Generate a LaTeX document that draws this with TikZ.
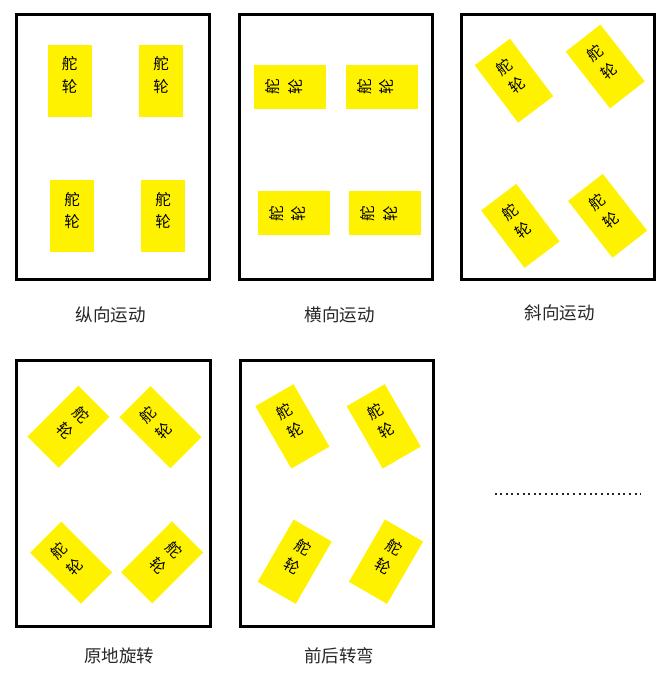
\documentclass[tikz,border=0pt]{standalone}
\usepackage{fontspec}
\newfontfamily\cjk{Noto Sans CJK SC}
\usetikzlibrary{calc}
\tikzset{
  frame/.style={draw=black, line width=3pt, fill=white},
  wheel/.style={fill=yellow, draw=none, minimum width=44pt, minimum height=72pt, inner sep=0pt},
  wheeltext/.style={font=\cjk\fontsize{15.5}{22.5}\selectfont, align=center, inner sep=0pt, text=black},
  caption/.style={font=\cjk\fontsize{17.5}{20}\selectfont, text=black!85, inner sep=0pt},
  dots/.style={line width=2pt, dash pattern=on 2pt off 3.6pt, draw=black!85}
}
\newcommand{\wheelat}[4]{%
  \node[wheel, rotate=#4] (#1) at (#2,#3) {};
  \node[wheeltext, rotate=#4] (#1t) at ($(#1.center)!6pt!(#1.north)$) {舵\\轮};
}
\begin{document}
\begin{tikzpicture}[x=1pt,y=-1pt]
\useasboundingbox (0,0) rectangle (668,684);
% frames
\node[frame, minimum width=192.6pt, minimum height=265pt, inner sep=0pt] (f1) at (113,146.8) {};
\node[frame, minimum width=192.7pt, minimum height=265pt, inner sep=0pt] (f2) at (336.3,146.8) {};
\node[frame, minimum width=193pt, minimum height=265pt, inner sep=0pt] (f3) at (557.5,146.8) {};
\node[frame, minimum width=194pt, minimum height=265.7pt, inner sep=0pt] (f4) at (113,493.8) {};
\node[frame, minimum width=193.3pt, minimum height=266pt, inner sep=0pt] (f5) at (336.7,493) {};
% box 1: longitudinal
\wheelat{a1}{69.5}{81}{0}
\wheelat{a2}{161}{81}{0}
\wheelat{a3}{72}{216.5}{0}
\wheelat{a4}{163}{216.5}{0}
% box 2: lateral
\wheelat{b1}{290}{87}{90}
\wheelat{b2}{381.5}{87}{90}
\wheelat{b3}{293.5}{213.5}{90}
\wheelat{b4}{385}{213.5}{90}
% box 3: diagonal
\wheelat{c1}{514}{80.7}{37}
\wheelat{c2}{605.2}{66.5}{38}
\wheelat{c3}{520.4}{225.9}{37}
\wheelat{c4}{607.6}{215.8}{38}
% box 4: spin in place
\wheelat{d1}{68.5}{426.8}{-45}
\wheelat{d2}{160.4}{427.2}{45}
\wheelat{d3}{71.2}{562.6}{45}
\wheelat{d4}{162.1}{562.3}{-45}
% box 5: front/rear steering
\wheelat{e1}{292.4}{426.4}{30}
\wheelat{e2}{383.7}{426.4}{30}
\wheelat{e3}{294.7}{561.7}{-30}
\wheelat{e4}{386}{561.7}{-30}
% captions
\node[caption] (l1) at (110.5,315) {纵向运动};
\node[caption] (l2) at (339.7,315) {横向运动};
\node[caption] (l3) at (559.5,313.3) {斜向运动};
\node[caption] (l4) at (119,655.8) {原地旋转};
\node[caption] (l5) at (339.2,655.8) {前后转弯};
% ellipsis line
\coordinate (p1) at (494.5,494);
\coordinate (p2) at (641,494);
\draw[dots] (p1) -- (p2);
\end{tikzpicture}
\end{document}
